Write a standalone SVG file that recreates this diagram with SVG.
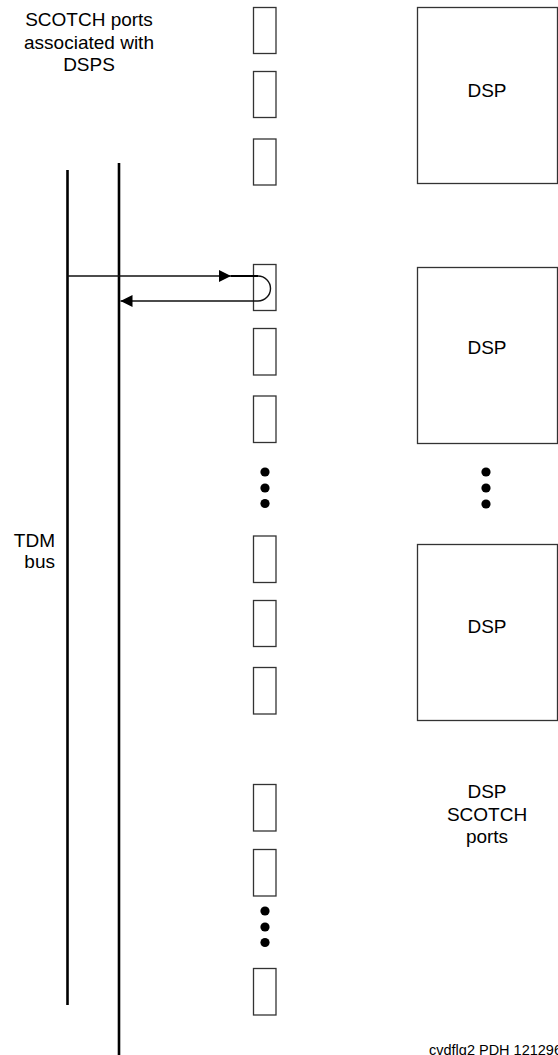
<svg xmlns="http://www.w3.org/2000/svg" width="558" height="1055" viewBox="0 0 558 1055">
<style>
.port{fill:#fff;stroke:#333;stroke-width:1.3}
.dsp{fill:#fff;stroke:#333;stroke-width:1.3}
.bus{stroke:#000;stroke-width:2.6;fill:none}
.wire{stroke:#111;stroke-width:1.4;fill:none}
.dot{fill:#000}
text{font-family:"Liberation Sans",Arial,sans-serif;font-size:19px;fill:#000}
.mid{text-anchor:middle}
.end{text-anchor:end}
</style>
<defs>
<marker id="ah" viewBox="0 0 12 12" refX="12" refY="6" markerWidth="12" markerHeight="12" markerUnits="userSpaceOnUse" orient="auto">
<path d="M0,0 L12,6 L0,12 Z" fill="#000"/>
</marker>
</defs>
<g id="label-ports">
<text class="mid" x="89" y="26">SCOTCH ports</text>
<text class="mid" x="89" y="48.5">associated with</text>
<text class="mid" x="89" y="71">DSPS</text>
</g>
<g id="label-tdm">
<text class="end" x="55" y="547">TDM</text>
<text class="end" x="55" y="568">bus</text>
</g>
<g id="tdm-bus">
<line class="bus" x1="67.5" y1="170" x2="67.5" y2="1005"/>
<line class="bus" x1="119" y1="163" x2="119" y2="1055"/>
</g>
<g id="ports">
<rect class="port" x="253.5" y="7.5" width="22.5" height="46"/>
<rect class="port" x="253.5" y="71.5" width="22.5" height="46"/>
<rect class="port" x="253.5" y="139" width="22.5" height="46"/>
<rect class="port" x="253.5" y="264.5" width="22.5" height="46"/>
<rect class="port" x="253.5" y="328.5" width="22.5" height="46.5"/>
<rect class="port" x="253.5" y="396" width="22.5" height="46.5"/>
<rect class="port" x="253.5" y="536" width="22.5" height="46.5"/>
<rect class="port" x="253.5" y="600.5" width="22.5" height="46"/>
<rect class="port" x="253.5" y="667.5" width="22.5" height="46.5"/>
<rect class="port" x="253.5" y="784.5" width="22.5" height="46.5"/>
<rect class="port" x="253.5" y="849.5" width="22.5" height="46.5"/>
<rect class="port" x="253.5" y="968.5" width="22.5" height="46.5"/>
</g>
<g id="port-dots">
<circle class="dot" cx="265" cy="472" r="4.6"/>
<circle class="dot" cx="265" cy="488" r="4.6"/>
<circle class="dot" cx="265" cy="503.5" r="4.6"/>
<circle class="dot" cx="265" cy="911" r="4.6"/>
<circle class="dot" cx="265" cy="927" r="4.6"/>
<circle class="dot" cx="265" cy="942.5" r="4.6"/>
</g>
<g id="dsp1">
<rect class="dsp" x="417.5" y="7.5" width="140" height="176"/>
<text class="mid" x="487" y="97">DSP</text>
</g>
<g id="dsp2">
<rect class="dsp" x="417.5" y="267.5" width="140" height="176"/>
<text class="mid" x="487" y="353.5">DSP</text>
</g>
<g id="dsp-dots">
<circle class="dot" cx="486" cy="472" r="4.6"/>
<circle class="dot" cx="486" cy="488" r="4.6"/>
<circle class="dot" cx="486" cy="504" r="4.6"/>
</g>
<g id="dsp3">
<rect class="dsp" x="417.5" y="544.5" width="140" height="176"/>
<text class="mid" x="487" y="633">DSP</text>
</g>
<g id="label-dsp-ports">
<text class="mid" x="487" y="798">DSP</text>
<text class="mid" x="487" y="821">SCOTCH</text>
<text class="mid" x="487" y="843">ports</text>
</g>
<g id="connectors">
<line class="wire" x1="67.5" y1="276" x2="231" y2="276" marker-end="url(#ah)"/>
<path class="wire" d="M231,276 L258,276 A12.5,12.5 0 0 1 258,301 L120.5,301" marker-end="url(#ah)"/>
<line x1="231" y1="276" x2="258" y2="276" stroke="#000" stroke-width="2"/>
</g>
<g id="footer">
<text x="429" y="1055" style="font-size:14.5px">cvdflg2 PDH 121296</text>
</g>
</svg>
